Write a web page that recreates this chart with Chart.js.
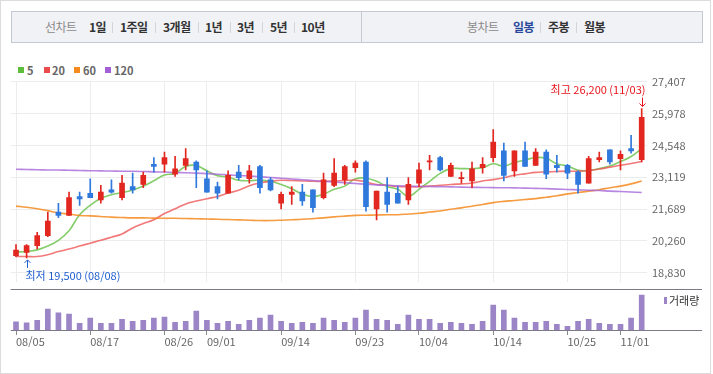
<!DOCTYPE html>
<html lang="ko">
<head>
<meta charset="utf-8">
<title>일봉 차트</title>
<script src="https://cdn.jsdelivr.net/npm/chart.js@4.4.1/dist/chart.umd.min.js"></script>
<style>
  html, body { margin: 0; padding: 0; background: #fff; }
  body { font-family: "Noto Sans CJK KR", "Noto Sans", sans-serif; }
  #box { position: relative; width: 713px; height: 374px; overflow: hidden; }
  #frame { position: absolute; left: 0; top: 0; width: 711px; height: 374px; box-sizing: border-box; border: 1px solid #dcdcdc; }
  #tabs { position: absolute; left: 11px; top: 11px; width: 692px; height: 32px; box-sizing: border-box; background: #f1f2f6; border: 1px solid #c5c9d3; }
  #tabs .mid { position: absolute; left: 349px; top: 0; bottom: 0; width: 1px; background: #c5c9d3; }
  #tabs span { position: absolute; top: 7px; font-size: 12px; line-height: 16px; white-space: nowrap; letter-spacing: -0.5px; }
  #tabs .g { color: #8a8a8a; }
  #tabs .b { color: #333; font-weight: bold; }
  #tabs .on { color: #2a4b9b; font-weight: bold; }
  #tabs .sep { top: 10px; width: 1px; height: 11px; background: #d3d5db; }
  .lg { position: absolute; top: 67px; width: 6px; height: 6px; }
  .lt { position: absolute; top: 63px; font-size: 11px; line-height: 14px; font-weight: bold; color: #666; }
  .cv { position: absolute; left: 0; }
  canvas { display: block; }
</style>
</head>
<body>
<div id="box">
  <div id="frame"></div>
  <div id="tabs">
    <span class="g" style="left:33px">선차트</span>
    <span class="b" style="left:77px">1일</span>
    <span class="sep" style="left:100px"></span>
    <span class="b" style="left:108px">1주일</span>
    <span class="sep" style="left:143px"></span>
    <span class="b" style="left:151px">3개월</span>
    <span class="sep" style="left:186px"></span>
    <span class="b" style="left:193px">1년</span>
    <span class="sep" style="left:218px"></span>
    <span class="b" style="left:225px">3년</span>
    <span class="sep" style="left:250px"></span>
    <span class="b" style="left:258px">5년</span>
    <span class="sep" style="left:282px"></span>
    <span class="b" style="left:289px">10년</span>
    <div class="mid"></div>
    <span class="g" style="left:455px">봉차트</span>
    <span class="on" style="left:501px">일봉</span>
    <span class="sep" style="left:528px"></span>
    <span class="b" style="left:536px">주봉</span>
    <span class="sep" style="left:564px"></span>
    <span class="b" style="left:572px">월봉</span>
  </div>

  <div class="lg" style="left:18px;background:#5cbf3c"></div><div class="lt" style="left:27px">5</div>
  <div class="lg" style="left:44px;background:#ea4a4a"></div><div class="lt" style="left:52px">20</div>
  <div class="lg" style="left:74px;background:#f58a1f"></div><div class="lt" style="left:83px">60</div>
  <div class="lg" style="left:105px;background:#a25fd6"></div><div class="lt" style="left:114px">120</div>

  <div class="cv" style="top:70px"><canvas id="price" width="713" height="224"></canvas></div>
  <div class="cv" style="top:280px"><canvas id="volume" width="713" height="80"></canvas></div>
</div>

<script>
// 일봉 데이터 (08/05 ~ 11/03)
const dates = ['08/05','08/08','08/09','08/10','08/11','08/12','08/16','08/17','08/18','08/19',
  '08/22','08/23','08/24','08/25','08/26','08/29','08/30','08/31','09/01','09/02',
  '09/05','09/06','09/07','09/08','09/13','09/14','09/15','09/16','09/19','09/20',
  '09/21','09/22','09/23','09/26','09/27','09/28','09/29','09/30','10/04','10/05',
  '10/06','10/07','10/11','10/12','10/13','10/14','10/17','10/18','10/19','10/20',
  '10/21','10/24','10/25','10/26','10/27','10/28','10/31','11/01','11/02','11/03'];

const opens = [19600,19750,20050,20500,21550,21400,22250,22400,22100,22550,
  22200,22700,22800,23700,23700,23250,23650,23800,23050,22700,
  22400,23350,23050,23600,23000,21950,22350,22450,22550,22200,
  22750,23000,23550,23800,21700,22450,22400,22100,22850,23800,
  24000,23150,23050,22950,23550,24000,24300,23400,24300,23650,
  24250,23650,23650,23350,22850,23900,24350,23950,24400,23900];
const highs = [20100,20100,20650,21550,21950,22450,22450,23050,22750,23000,
  23200,23300,23350,24000,24250,24050,24400,23850,23400,22900,
  23400,23650,23650,23650,23100,22450,22700,22800,22550,23300,
  23950,23650,23850,23850,22500,23100,22700,23100,23750,24100,
  24050,23750,23350,23800,24000,25250,24650,24300,24700,24400,
  24350,24100,23700,23400,24050,24250,24350,24300,25000,26200];
const lows = [19550,19500,19900,20450,21300,21400,21850,22200,21950,22400,
  22100,22400,22650,23350,23350,23150,23450,22650,22450,22150,
  22400,23000,22850,22400,22500,21700,21900,21850,21550,22150,
  22700,22800,23350,21600,21200,21550,21950,21900,22700,23450,
  23400,23150,22850,22650,23300,23800,22950,23150,23600,23650,
  23050,23350,23050,22400,22850,23800,23700,23450,24200,23800];
const closes = [19850,20050,20500,21150,21400,22200,22150,22200,22450,22450,
  22850,22550,23200,23600,24000,23500,23950,23450,22450,22400,
  23200,23100,23400,22650,22550,22350,22450,22050,21750,23000,
  23300,23600,23750,21800,22500,21900,21950,22800,23450,23850,
  23450,23650,23100,23500,23700,24700,23200,24300,23600,24250,
  23250,23550,23300,22800,23950,24000,23800,24150,24300,25800];
const volumes = [315000,280000,375000,760000,630000,585000,270000,445000,270000,270000,
  410000,340000,375000,445000,480000,305000,340000,690000,375000,270000,
  340000,235000,375000,445000,550000,340000,270000,305000,270000,445000,
  375000,305000,445000,725000,410000,375000,235000,550000,410000,410000,
  270000,305000,270000,235000,340000,900000,725000,445000,305000,305000,
  340000,235000,165000,340000,410000,270000,235000,235000,445000,1250000];

// 이동평균선
const ma5 = [19760,19790,19860,20030,20290,20720,21435,21860,22175,22335,
  22430,22550,22720,22960,23215,23290,23600,23645,23405,23190,
  23120,22980,22960,22990,22935,22790,22605,22360,22250,22360,
  22575,22720,23045,23075,22935,22700,22575,22260,22575,22935,
  23290,23505,23505,23505,23550,23720,23620,23785,23890,24005,
  23965,23720,23620,23430,23420,23505,23620,23820,24050,24405];
const ma20 = [19560,19560,19560,19645,19785,19900,20030,20160,20290,20430,
  20575,20845,21040,21210,21490,21700,21920,22050,22155,22250,
  22410,22530,22735,22860,22935,22980,22970,22950,22935,22935,
  22950,22970,22990,22905,22790,22760,22700,22690,22690,22720,
  22755,22795,22820,22860,22950,23010,23095,23205,23270,23335,
  23355,23375,23390,23390,23420,23485,23570,23655,23730,23820];
const ma60 = [21820,21770,21705,21620,21510,21470,21405,21385,21360,21330,
  21310,21295,21295,21285,21275,21275,21265,21255,21245,21230,
  21220,21205,21190,21175,21175,21190,21210,21230,21260,21295,
  21340,21375,21405,21415,21425,21435,21435,21470,21500,21555,
  21605,21680,21745,21820,21895,21980,22035,22075,22120,22160,
  22220,22285,22370,22430,22495,22560,22645,22720,22820,22945];
const ma120 = [23475,23465,23455,23445,23440,23430,23420,23410,23405,23395,
  23385,23385,23375,23360,23350,23330,23320,23300,23280,23255,
  23225,23195,23170,23140,23105,23075,23040,23005,22970,22935,
  22905,22870,22835,22805,22775,22755,22733,22720,22710,22700,
  22695,22685,22675,22665,22660,22650,22645,22640,22630,22620,
  22605,22585,22570,22550,22535,22520,22495,22475,22455,22430];

// 축 눈금
const yTicks = [18830, 20260, 21689, 23119, 24548, 25978, 27407];
const xTicks = ['08/05','08/17','08/26','09/01','09/14','09/23','10/04','10/14','10/25','11/01'];

const FONT = '"Noto Sans CJK KR", "Noto Sans", sans-serif';
const RED = '#e1271f';
const BLUE = '#2f78dc';
const GRID = '#ececec';

const isUp = i => closes[i] >= opens[i];
const candleColor = ctx => isUp(ctx.dataIndex) ? RED : BLUE;
const isTick = i => xTicks.includes(dates[i]);

function maLine(label, data, color) {
    return {
        type: 'line',
        label: label,
        data: data,
        borderColor: color,
        borderWidth: 1.6,
        pointRadius: 0,
        tension: 0.4,
        order: 5
    };
}

// 최고 / 최저 표시
const hiLoPlugin = {
    id: 'hiLo',
    afterDatasetsDraw(chart) {
        const { ctx, scales: { x, y } } = chart;
        const hi = highs.indexOf(Math.max(...highs));
        const lo = lows.indexOf(Math.min(...lows));
        ctx.save();
        ctx.font = '11px ' + FONT;
        ctx.lineWidth = 1;
        ctx.textBaseline = 'middle';

        let px = Math.round(x.getPixelForValue(hi)) + 0.5;
        let py = y.getPixelForValue(highs[hi]);
        ctx.fillStyle = ctx.strokeStyle = '#e8141b';
        ctx.textAlign = 'right';
        ctx.fillText('최고 ' + highs[hi].toLocaleString('en-US') + ' (' + dates[hi] + ')', px + 3, py - 19);
        ctx.beginPath();
        ctx.moveTo(px, py - 11); ctx.lineTo(px, py - 2);
        ctx.moveTo(px - 3, py - 5); ctx.lineTo(px, py - 2); ctx.lineTo(px + 3, py - 5);
        ctx.stroke();

        px = Math.round(x.getPixelForValue(lo)) + 0.5;
        py = y.getPixelForValue(lows[lo]);
        ctx.fillStyle = ctx.strokeStyle = '#1f5fd0';
        ctx.textAlign = 'left';
        ctx.fillText('최저 ' + lows[lo].toLocaleString('en-US') + ' (' + dates[lo] + ')', px - 2, py + 18);
        ctx.beginPath();
        ctx.moveTo(px, py + 2); ctx.lineTo(px, py + 10);
        ctx.moveTo(px - 3, py + 5); ctx.lineTo(px, py + 2); ctx.lineTo(px + 3, py + 5);
        ctx.stroke();
        ctx.restore();
    }
};

// =============================
// 가격 차트 (캔들 + 이동평균)
// =============================
new Chart(document.getElementById('price'), {
    type: 'bar',
    data: {
        labels: dates,
        datasets: [
            maLine('120', ma120, 'rgba(166,104,218,0.8)'),
            maLine('60', ma60, 'rgba(245,138,31,0.85)'),
            maLine('20', ma20, 'rgba(238,88,88,0.8)'),
            maLine('5', ma5, 'rgba(110,196,80,0.85)'),
            {
                label: 'wick',
                data: dates.map((d, i) => [lows[i], highs[i]]),
                backgroundColor: candleColor,
                barThickness: 1,
                grouped: false,
                order: 2
            },
            {
                label: 'body',
                data: dates.map((d, i) => [opens[i], closes[i]]),
                backgroundColor: candleColor,
                barThickness: 5,
                minBarLength: 1,
                grouped: false,
                order: 1
            }
        ]
    },
    options: {
        responsive: false,
        animation: false,
        devicePixelRatio: 1,
        layout: { padding: { left: 10.7, right: 0, top: 9, bottom: 5 } },
        plugins: { legend: { display: false }, tooltip: { enabled: false } },
        scales: {
            x: {
                offset: true,
                grid: {
                    offset: false,
                    drawTicks: false,
                    color: ctx => isTick(ctx.index) ? GRID : 'rgba(0,0,0,0)'
                },
                border: { display: false },
                ticks: { display: false, autoSkip: false },
                afterFit: s => { s.height = 0; }
            },
            y: {
                position: 'right',
                min: 18401,
                max: 27407,
                afterBuildTicks: s => { s.ticks = yTicks.map(v => ({ value: v })); },
                grid: { color: GRID, drawTicks: false },
                border: { display: false },
                ticks: {
                    padding: 5,
                    color: '#666',
                    font: { size: 11, family: FONT },
                    callback: v => v.toLocaleString('en-US')
                },
                afterFit: s => { s.width = 66; }
            }
        }
    },
    plugins: [hiLoPlugin]
});

// 거래량 패널 구분선 + 범례
const volumeFrame = {
    id: 'volumeFrame',
    afterDraw(chart) {
        const { ctx, chartArea: { top, bottom, left } } = chart;
        const right = chart.width - 11;
        ctx.save();
        ctx.strokeStyle = '#7a7b84';
        ctx.lineWidth = 1;
        ctx.beginPath();
        ctx.moveTo(left, Math.round(top) + 0.5); ctx.lineTo(right, Math.round(top) + 0.5);
        ctx.moveTo(left, Math.round(bottom) - 0.5); ctx.lineTo(right, Math.round(bottom) - 0.5);
        ctx.stroke();
        ctx.fillStyle = '#9b85c6';
        ctx.fillRect(664, top + 8, 3, 7);
        ctx.fillStyle = '#333';
        ctx.font = '11px ' + FONT;
        ctx.textBaseline = 'middle';
        ctx.fillText('거래량', 669, top + 12);
        ctx.restore();
    }
};

// =============================
// 거래량 차트
// =============================
new Chart(document.getElementById('volume'), {
    type: 'bar',
    data: {
        labels: dates,
        datasets: [{
            label: '거래량',
            data: volumes,
            backgroundColor: '#9b85c6',
            barThickness: 5
        }]
    },
    options: {
        responsive: false,
        animation: false,
        devicePixelRatio: 1,
        layout: { padding: { left: 10.7, right: 66, top: 9, bottom: 0 } },
        plugins: { legend: { display: false }, tooltip: { enabled: false } },
        scales: {
            x: {
                offset: true,
                grid: {
                    offset: false,
                    drawOnChartArea: false,
                    tickLength: 4,
                    tickColor: ctx => isTick(ctx.index) ? '#8a8a8a' : 'rgba(0,0,0,0)'
                },
                border: { display: false },
                ticks: {
                    autoSkip: false,
                    minRotation: 0,
                    maxRotation: 0,
                    align: 'start',
                    padding: 0,
                    color: '#666',
                    font: { size: 11, family: FONT },
                    callback: (v, i) => isTick(i) ? dates[i] : ''
                },
                afterFit: s => { s.height = 29; }
            },
            y: { display: false, min: 0, max: 1460000 }
        }
    },
    plugins: [volumeFrame]
});
</script>
</body>
</html>
